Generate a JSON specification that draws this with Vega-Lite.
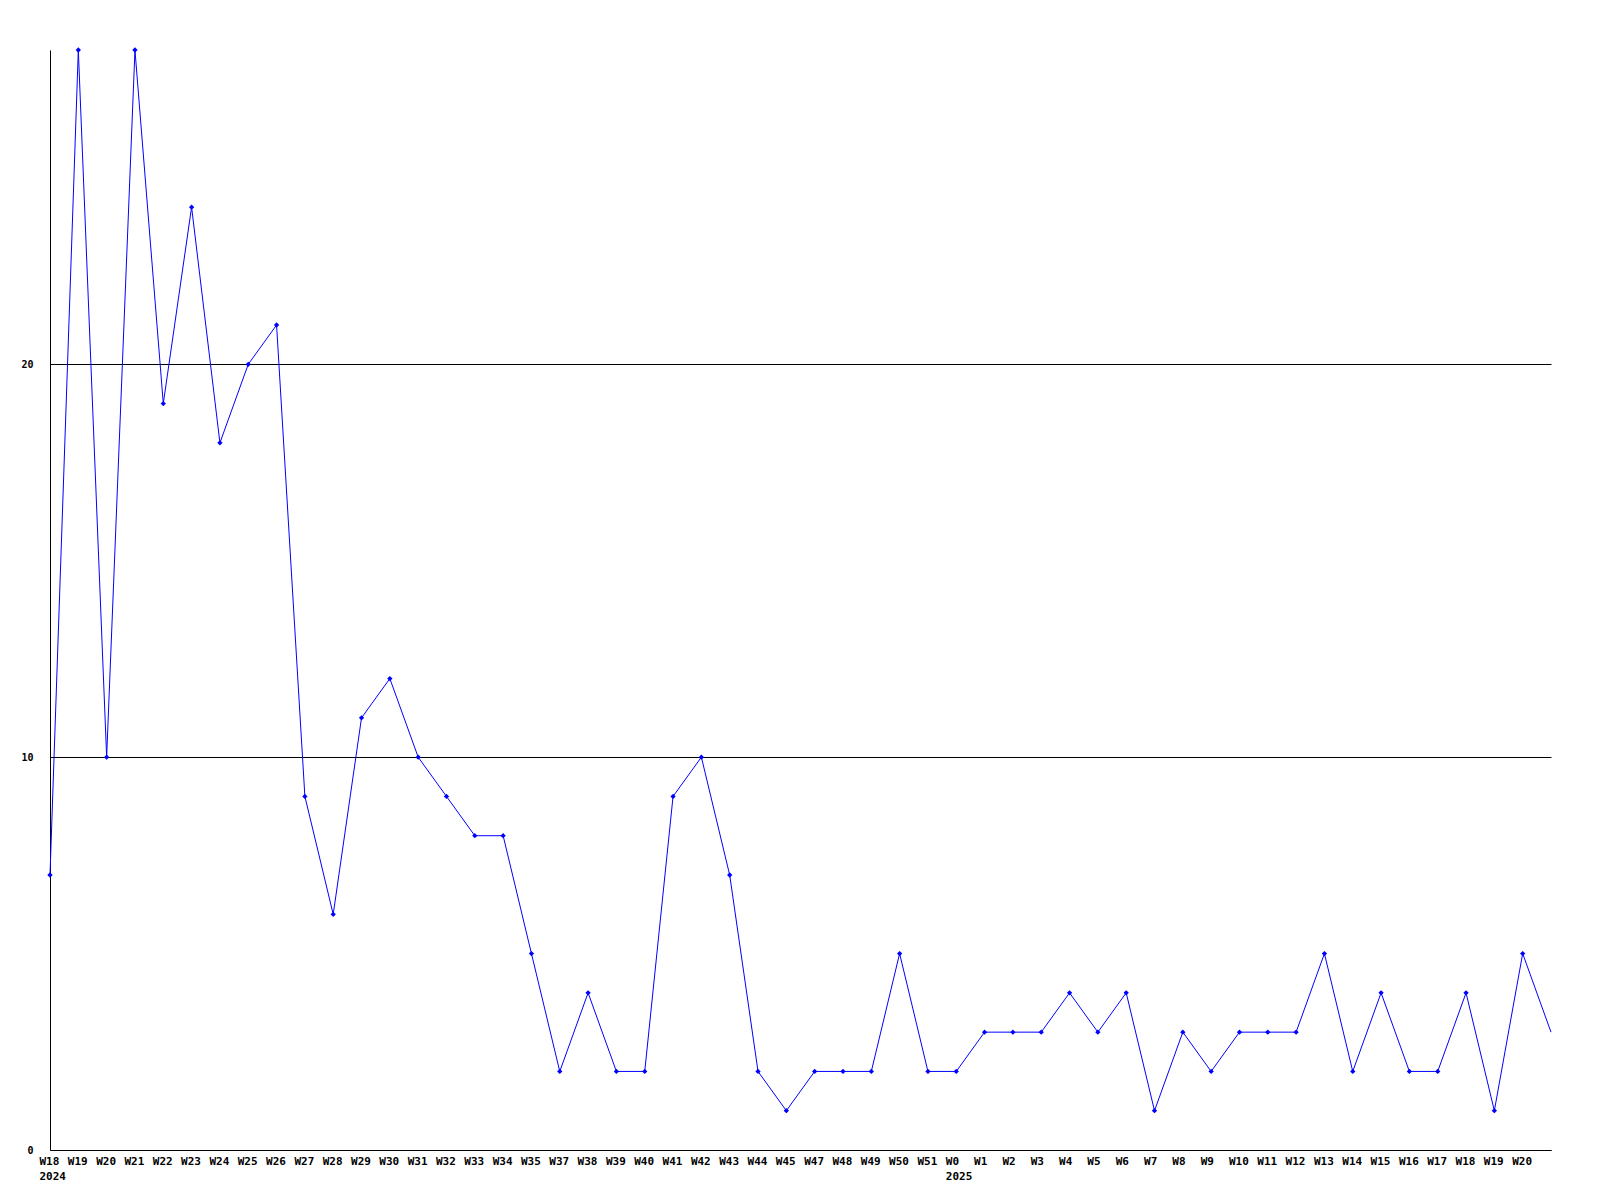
{
  "$schema": "https://vega.github.io/schema/vega-lite/v6.json",
  "width": 1501,
  "height": 1100,
  "autosize": {"type": "none"},
  "padding": {"left": 50, "top": 50, "right": 49, "bottom": 50},
  "background": "white",
  "config": {"view": {"stroke": null}},
  "data": {"values": [
    {"key": "2024 W18", "value": 7},
    {"key": "2024 W19", "value": 28},
    {"key": "2024 W20", "value": 10},
    {"key": "2024 W21", "value": 28},
    {"key": "2024 W22", "value": 19},
    {"key": "2024 W23", "value": 24},
    {"key": "2024 W24", "value": 18},
    {"key": "2024 W25", "value": 20},
    {"key": "2024 W26", "value": 21},
    {"key": "2024 W27", "value": 9},
    {"key": "2024 W28", "value": 6},
    {"key": "2024 W29", "value": 11},
    {"key": "2024 W30", "value": 12},
    {"key": "2024 W31", "value": 10},
    {"key": "2024 W32", "value": 9},
    {"key": "2024 W33", "value": 8},
    {"key": "2024 W34", "value": 8},
    {"key": "2024 W35", "value": 5},
    {"key": "2024 W37", "value": 2},
    {"key": "2024 W38", "value": 4},
    {"key": "2024 W39", "value": 2},
    {"key": "2024 W40", "value": 2},
    {"key": "2024 W41", "value": 9},
    {"key": "2024 W42", "value": 10},
    {"key": "2024 W43", "value": 7},
    {"key": "2024 W44", "value": 2},
    {"key": "2024 W45", "value": 1},
    {"key": "2024 W47", "value": 2},
    {"key": "2024 W48", "value": 2},
    {"key": "2024 W49", "value": 2},
    {"key": "2024 W50", "value": 5},
    {"key": "2024 W51", "value": 2},
    {"key": "2025 W0", "value": 2},
    {"key": "2025 W1", "value": 3},
    {"key": "2025 W2", "value": 3},
    {"key": "2025 W3", "value": 3},
    {"key": "2025 W4", "value": 4},
    {"key": "2025 W5", "value": 3},
    {"key": "2025 W6", "value": 4},
    {"key": "2025 W7", "value": 1},
    {"key": "2025 W8", "value": 3},
    {"key": "2025 W9", "value": 2},
    {"key": "2025 W10", "value": 3},
    {"key": "2025 W11", "value": 3},
    {"key": "2025 W12", "value": 3},
    {"key": "2025 W13", "value": 5},
    {"key": "2025 W14", "value": 2},
    {"key": "2025 W15", "value": 4},
    {"key": "2025 W16", "value": 2},
    {"key": "2025 W17", "value": 2},
    {"key": "2025 W18", "value": 4},
    {"key": "2025 W19", "value": 1},
    {"key": "2025 W20", "value": 5},
    {"key": "2025 W21", "value": 3}
  ]},
  "encoding": {
    "x": {
      "field": "key", "type": "ordinal", "sort": null,
      "scale": {"type": "point", "padding": 0},
      "axis": {
        "title": null, "labelAngle": 0, "ticks": false, "labelPadding": 5,
        "domainColor": "black", "domainWidth": 1,
        "labelFont": "DejaVu Sans Mono", "labelFontWeight": "bold", "labelFontSize": 11,
        "labelColor": "black", "labelOverlap": false, "labelLineHeight": 15,
        "labelBaseline": "top", "labelAlign": "left", "labelOffset": -11,
        "labelExpr": "datum.value == '2024 W18' ? ['W18', '2024'] : datum.value == '2025 W0' ? ['W0', '2025'] : datum.value == '2025 W21' ? '' : split(datum.value, ' ')[1]"
      }
    },
    "y": {
      "field": "value", "type": "quantitative",
      "scale": {"domain": [0, 28], "nice": false},
      "axis": {
        "title": null, "values": [0, 10, 20], "ticks": false, "labelPadding": 17,
        "grid": true, "gridColor": "black", "gridOpacity": 1, "gridWidth": 1,
        "domainColor": "black", "domainWidth": 1,
        "labelFont": "DejaVu Sans Mono", "labelFontWeight": "bold", "labelFontSize": 10,
        "labelColor": "black"
      }
    }
  },
  "layer": [
    {"mark": {"type": "line", "color": "#0000FF", "strokeWidth": 1}},
    {
      "transform": [{"filter": "datum.key != '2025 W21'"}],
      "mark": {"type": "point", "shape": "diamond", "filled": true, "color": "#0000FF", "size": 28, "opacity": 1}
    }
  ]
}
